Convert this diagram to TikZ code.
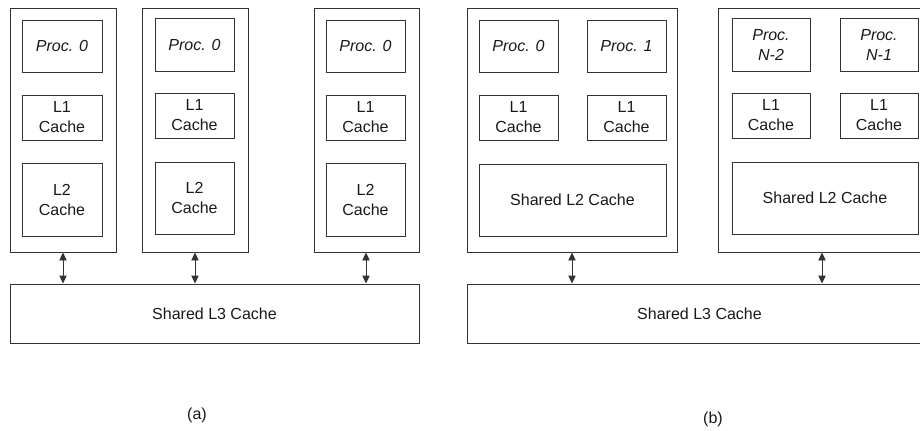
\documentclass[tikz,border=0pt]{standalone}
\usepackage{fontspec}
\setmainfont{Liberation Sans}
\usetikzlibrary{arrows.meta}

\begin{document}
\begin{tikzpicture}[x=0.75pt,y=-0.75pt,
  every node/.style={font=\fontsize{12pt}{15pt}\selectfont, text=black!90},
  unit/.style={draw=black!80, line width=0.7pt, inner sep=0pt, align=center},
  sz/.style 2 args={minimum width=#1*0.75pt, minimum height=#2*0.75pt},
  proc/.style={unit, font=\fontsize{12pt}{15pt}\selectfont\itshape},
  link/.style={draw=black!80, line width=0.7pt,
    {Triangle[length=6pt,width=5.5pt]}-{Triangle[length=6pt,width=5.5pt]}}]
\clip (0,0) rectangle (920,430);
\useasboundingbox (0,0) rectangle (920,430);

% ---------- (a) private L2 per core ----------
\node[unit, sz={106}{244}] (ca1) at (63,130) {};
\node[proc, sz={80}{52}] (pa1) at (62,46) {Proc. 0};
\node[unit, sz={80}{45}] (la1) at (62,117.5) {L1\\Cache};
\node[unit, sz={80}{73}] (ma1) at (62,199.5) {L2\\Cache};

\node[unit, sz={106}{244}] (ca2) at (195,130) {};
\node[proc, sz={79}{53}] (pa2) at (194.5,44.5) {Proc. 0};
\node[unit, sz={79}{45}] (la2) at (194.5,115.5) {L1\\Cache};
\node[unit, sz={79}{72}] (ma2) at (194.5,198) {L2\\Cache};

\node[unit, sz={105}{244}] (ca3) at (366.5,130) {};
\node[proc, sz={79}{52}] (pa3) at (365.5,46) {Proc. 0};
\node[unit, sz={79}{45}] (la3) at (365.5,117.5) {L1\\Cache};
\node[unit, sz={79}{73}] (ma3) at (365.5,199.5) {L2\\Cache};

\node[unit, sz={409}{59}] (l3a) at (214.5,313.5) {Shared L3 Cache};

\coordinate (xa1) at (63,0);
\coordinate (xa2) at (195,0);
\coordinate (xa3) at (366,0);
\draw[link] (ca1.south -| xa1) -- (l3a.north -| xa1);
\draw[link] (ca2.south -| xa2) -- (l3a.north -| xa2);
\draw[link] (ca3.south -| xa3) -- (l3a.north -| xa3);

\node (capa) at (197,415) {(a)};

% ---------- (b) shared L2 per core pair ----------
\node[unit, sz={210}{244}] (cb1) at (572,130) {};
\node[proc, sz={79}{52}] (pb1) at (518.5,46) {Proc. 0};
\node[proc, sz={79}{52}] (pb2) at (626.5,46) {Proc. 1};
\node[unit, sz={79}{45}] (lb1) at (518.5,117.5) {L1\\Cache};
\node[unit, sz={79}{45}] (lb2) at (626.5,117.5) {L1\\Cache};
\node[unit, sz={187}{72}] (mb1) at (572.5,200) {Shared L2 Cache};

\node[unit, sz={214}{244}] (cb2) at (825,130) {};
\node[proc, sz={78}{53}] (pb3) at (771,44.5) {Proc.\\N-2};
\node[proc, sz={78}{53}] (pb4) at (879,44.5) {Proc.\\N-1};
\node[unit, sz={78}{45}] (lb3) at (771,115.5) {L1\\Cache};
\node[unit, sz={78}{45}] (lb4) at (879,115.5) {L1\\Cache};
\node[unit, sz={186}{72}] (mb2) at (825,198) {Shared L2 Cache};

\node[unit, sz={465}{59}] (l3b) at (699.5,313.5) {Shared L3 Cache};

\coordinate (xb1) at (572,0);
\coordinate (xb2) at (822,0);
\draw[link] (cb1.south -| xb1) -- (l3b.north -| xb1);
\draw[link] (cb2.south -| xb2) -- (l3b.north -| xb2);

\node (capb) at (713,419) {(b)};
\end{tikzpicture}
\end{document}
